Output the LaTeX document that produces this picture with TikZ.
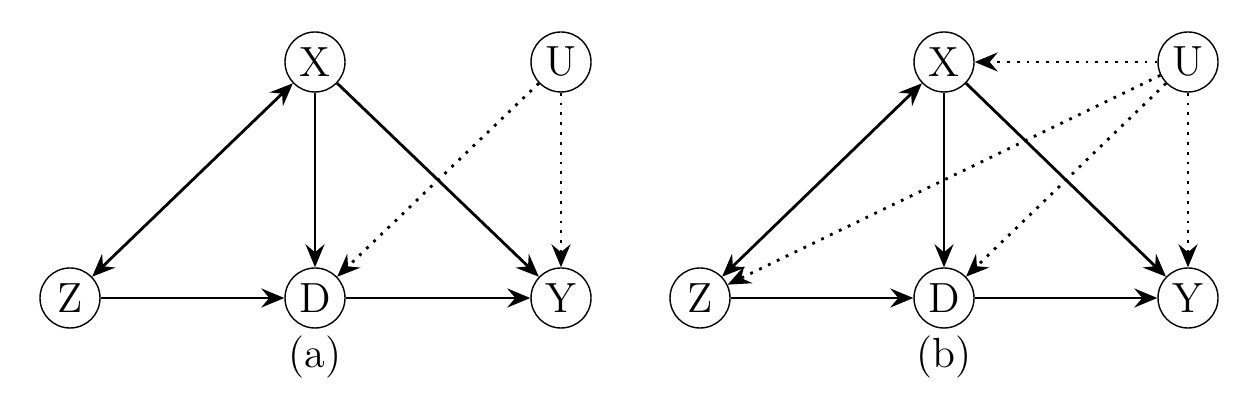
\documentclass[tikz,border=0pt]{standalone}
\usepackage{amsmath, amssymb}
\usepackage{tikz}
\usetikzlibrary{arrows.meta}

\begin{document}
\begin{tikzpicture}[
    font=\large,
    var/.style={circle, draw, thin, minimum size=0.6cm, inner sep=0pt},
    edge/.style={-{Stealth[length=2.3mm, width=1.9mm, inset=0.8mm]}, line width=0.8pt},
    bothway/.style={{Stealth[length=2.3mm, width=1.9mm, inset=0.8mm]}-{Stealth[length=2.3mm, width=1.9mm, inset=0.8mm]}, line width=0.8pt},
    hidden/.style={edge, dotted},
    line width=0.8pt
]

    \useasboundingbox (0,0) rectangle (12.59,-4.02);

    % Panel (a)
    \node[var] (za) at (0.70, -2.98) {Z};
    \node[var] (da) at (3.15, -2.98) {D};
    \node[var] (ya) at (5.61, -2.98) {Y};
    \node[var] (xa) at (3.15, -0.62) {X};
    \node[var] (ua) at (5.61, -0.62) {U};
    \node (capa) at (3.15, -3.57) {(a)};

    \draw[bothway] (za) -- (xa);
    \draw[edge] (xa) -- (da);
    \draw[edge] (xa) -- (ya);
    \draw[edge] (za) -- (da);
    \draw[edge] (da) -- (ya);
    \draw[hidden] (ua) -- (da);
    \draw[hidden] (ua) -- (ya);

    % Panel (b)
    \node[var] (zb) at (7.00, -2.98) {Z};
    \node[var] (db) at (9.44, -2.98) {D};
    \node[var] (yb) at (11.88, -2.98) {Y};
    \node[var] (xb) at (9.44, -0.62) {X};
    \node[var] (ub) at (11.88, -0.62) {U};
    \node (capb) at (9.44, -3.57) {(b)};

    \draw[bothway] (zb) -- (xb);
    \draw[edge] (xb) -- (db);
    \draw[edge] (xb) -- (yb);
    \draw[edge] (zb) -- (db);
    \draw[edge] (db) -- (yb);
    \draw[hidden] (ub) -- (xb);
    \draw[hidden] (ub) -- (zb);
    \draw[hidden] (ub) -- (db);
    \draw[hidden] (ub) -- (yb);

\end{tikzpicture}
\end{document}
